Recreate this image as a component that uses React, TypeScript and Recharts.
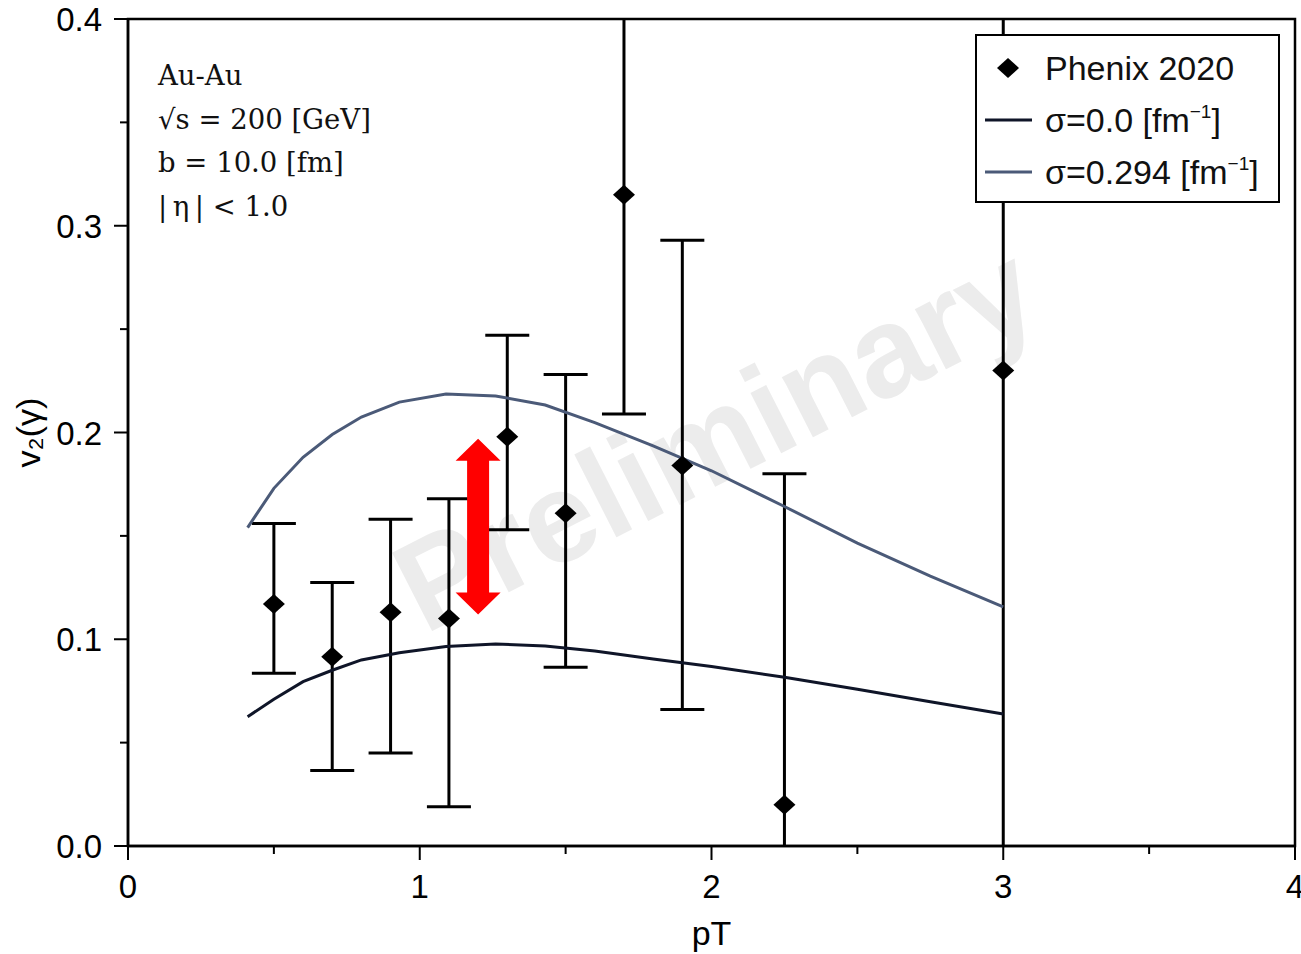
import React from 'react';
import {
  ComposedChart,
  Scatter,
  Line,
  XAxis,
  YAxis,
  ErrorBar,
  Legend,
  ReferenceLine,
  ReferenceArea,
  Customized,
} from 'recharts';

// ---- Data ----
const pTValues = [0.5, 0.7, 0.9, 1.1, 1.3, 1.5, 1.7, 1.9, 2.25, 3.0];
const v2Values = [0.117, 0.0915, 0.113, 0.11, 0.198, 0.161, 0.315, 0.184, 0.02, 0.23];
const errLow = [0.0335, 0.055, 0.068, 0.091, 0.045, 0.0745, 0.106, 0.118, 0.16, 0.25];
const errHigh = [0.039, 0.036, 0.045, 0.058, 0.049, 0.067, 0.106, 0.109, 0.16, 0.25];

const curvePT = [0.41, 0.5, 0.6, 0.7, 0.8, 0.93, 1.09, 1.26, 1.43, 1.6, 1.8, 2.0, 2.25, 2.5, 2.75, 3.0];
const sigma0 = [0.0625, 0.071, 0.0795, 0.085, 0.09, 0.0935, 0.0965, 0.0977, 0.0967, 0.0943, 0.0905, 0.0868, 0.0816, 0.0758, 0.0698, 0.0638];
const sigma294 = [0.154, 0.173, 0.188, 0.199, 0.2075, 0.2147, 0.2186, 0.2177, 0.2133, 0.2048, 0.1935, 0.1815, 0.1642, 0.1465, 0.1305, 0.1157];

const xTicks = [0, 0.5, 1, 1.5, 2, 2.5, 3, 3.5, 4];
const yTicks = [0, 0.05, 0.1, 0.15, 0.2, 0.25, 0.3, 0.35, 0.4];

const arrowX = 1.2;
const arrowLow = 0.112;
const arrowHigh = 0.197;

const infoLines = ['Au-Au', '\u221As = 200 [GeV]', 'b = 10.0 [fm]', '|\u2009\u03B7\u2009| < 1.0'];
const legendLabels = ['Phenix 2020', '\u03C3=0.0 [fm', '\u03C3=0.294 [fm'];

const phenixData = pTValues.map((x, i) => ({ pT: x, v2: v2Values[i], err: [errLow[i], errHigh[i]] }));
const sigma0Data = curvePT.map((x, i) => ({ pT: x, v2: sigma0[i] }));
const sigma294Data = curvePT.map((x, i) => ({ pT: x, v2: sigma294[i] }));

const SANS = '"Liberation Sans", Arial, Helvetica, sans-serif';
const SERIF = '"DejaVu Serif", "Liberation Serif", serif';
const COLOR0 = '#0f1528';
const COLOR294 = '#4b5a78';

const Diamond = (props: any) => {
  const { cx, cy } = props;
  if (cx == null || cy == null) return null;
  return (
    <polygon
      points={`${cx},${cy - 10} ${cx + 11},${cy} ${cx},${cy + 10} ${cx - 11},${cy}`}
      fill="#000"
    />
  );
};

const YTick = (props: any) => {
  const { x, y, payload } = props;
  const v = payload.value;
  const major = Math.abs(v * 10 - Math.round(v * 10)) < 1e-6;
  return (
    <g>
      <line x1={x - (major ? 14 : 8)} x2={x} y1={y} y2={y} stroke="#000" strokeWidth={2} />
      {major && (
        <text x={x - 26} y={y + 12} textAnchor="end" fontSize={33} fontFamily={SANS} fill="#000">
          {v.toFixed(1)}
        </text>
      )}
    </g>
  );
};

const XTick = (props: any) => {
  const { x, y, payload } = props;
  const v = payload.value;
  const major = Math.abs(v - Math.round(v)) < 1e-6;
  return (
    <g>
      <line x1={x} x2={x} y1={y} y2={y + (major ? 14 : 8)} stroke="#000" strokeWidth={2} />
      {major && (
        <text x={x} y={y + 52} textAnchor="middle" fontSize={33} fontFamily={SANS} fill="#000">
          {String(v)}
        </text>
      )}
    </g>
  );
};

const YLabel = (props: any) => {
  const vb = props.viewBox || { x: 0, y: 19, width: 128, height: 827 };
  const cx = vb.x + 28;
  const cy = vb.y + vb.height / 2;
  return (
    <text
      x={cx}
      y={cy}
      transform={`rotate(-90, ${cx}, ${cy})`}
      textAnchor="middle"
      dominantBaseline="central"
      fontSize={34}
      fontFamily={SANS}
      fill="#000"
    >
      v₂(γ)
    </text>
  );
};

const XLabel = (props: any) => {
  const vb = props.viewBox || { x: 128, y: 846, width: 1167, height: 108 };
  return (
    <text
      x={vb.x + vb.width / 2}
      y={vb.y + 99}
      textAnchor="middle"
      fontSize={34}
      fontFamily={SANS}
      fill="#000"
    >
      pT
    </text>
  );
};

const Watermark = () => (
  <g>
    <defs>
      <clipPath id="plotClip">
        <rect x={128} y={19} width={1167} height={827} />
      </clipPath>
    </defs>
    <text
      x={715}
      y={437}
      transform="rotate(-27, 715, 437)"
      textAnchor="middle"
      dominantBaseline="central"
      fontSize={128}
      fontWeight="bold"
      fontFamily={SANS}
      fill="#ececec"
    >
      Preliminary
    </text>
  </g>
);

const InfoText = () => (
  <g>
    {infoLines.map((t, i) => (
      <text key={i} x={158} y={85 + i * 43.7} fontSize={27.5} fontFamily={SERIF} fill="#111">
        {t}
      </text>
    ))}
  </g>
);

const DoubleArrow = (props: any) => {
  const { x1, y1, y2 } = props;
  const cx = x1;
  const top = Math.min(y1, y2);
  const bot = Math.max(y1, y2);
  const hh = 22;
  const hw = 22.5;
  const sw = 11;
  const pts = [
    [cx, top],
    [cx + hw, top + hh],
    [cx + sw, top + hh],
    [cx + sw, bot - hh],
    [cx + hw, bot - hh],
    [cx, bot],
    [cx - hw, bot - hh],
    [cx - sw, bot - hh],
    [cx - sw, top + hh],
    [cx - hw, top + hh],
  ]
    .map((p) => p.join(','))
    .join(' ');
  return <polygon points={pts} fill="#ff0000" />;
};

const LegendContent = () => {
  const rows = [34, 86, 138];
  const sup = (label: string) => (
    <text x={70} fontSize={34} fontFamily={SANS} fill="#111">
      {label}
      <tspan dy={-14} fontSize={19}>
        −1
      </tspan>
      <tspan dy={14}>]</tspan>
    </text>
  );
  return (
    <svg width={305} height={169} style={{ display: 'block', background: '#fff' }}>
      <rect x={1} y={1} width={303} height={167} fill="#fff" stroke="#000" strokeWidth={2} />
      <polygon points={`33,${rows[0] - 10} 44,${rows[0]} 33,${rows[0] + 10} 22,${rows[0]}`} fill="#000" />
      <text x={70} y={rows[0] + 12} fontSize={34} fontFamily={SANS} fill="#111">
        {legendLabels[0]}
      </text>
      <line x1={10} x2={57} y1={rows[1]} y2={rows[1]} stroke={COLOR0} strokeWidth={3} />
      <g transform={`translate(0, ${rows[1] + 12})`}>{sup(legendLabels[1])}</g>
      <line x1={10} x2={57} y1={rows[2]} y2={rows[2]} stroke={COLOR294} strokeWidth={3} />
      <g transform={`translate(0, ${rows[2] + 12})`}>{sup(legendLabels[2])}</g>
    </svg>
  );
};

export default function App() {
  return (
    <div style={{ position: 'absolute', left: 0, top: 0, width: 1301, height: 954, background: '#fff' }}>
      <style>{`.recharts-errorBars, .recharts-errorBar { clip-path: url(#plotClip); }`}</style>
      <ComposedChart width={1301} height={954} margin={{ top: 19, right: 6, bottom: 0, left: 0 }}>
        <Customized component={Watermark} />
        <Customized component={InfoText} />
        <XAxis
          dataKey="pT"
          type="number"
          domain={[0, 4]}
          ticks={xTicks}
          interval={0}
          height={108}
          tickSize={0}
          tickMargin={0}
          tickLine={false}
          tick={<XTick />}
          axisLine={{ stroke: '#000', strokeWidth: 2.5 }}
          allowDataOverflow
          label={<XLabel />}
        />
        <YAxis
          type="number"
          domain={[0, 0.4]}
          ticks={yTicks}
          interval={0}
          width={128}
          tickSize={0}
          tickMargin={0}
          tickLine={false}
          tick={<YTick />}
          axisLine={{ stroke: '#000', strokeWidth: 2.5 }}
          allowDataOverflow
          label={<YLabel />}
        />
        <ReferenceArea x1={0} x2={4} y1={0} y2={0.4} fill="none" stroke="#000" strokeWidth={2.5} />
        <Scatter
          name="Phenix 2020"
          data={phenixData}
          dataKey="v2"
          fill="#000"
          shape={<Diamond />}
          isAnimationActive={false}
        >
          <ErrorBar
            dataKey="err"
            direction="y"
            width={22}
            strokeWidth={3}
            stroke="#000"
            clipPath="url(#plotClip)"
          />
        </Scatter>
        <Line
          data={sigma0Data}
          dataKey="v2"
          type="linear"
          stroke={COLOR0}
          strokeWidth={3}
          dot={false}
          activeDot={false}
          isAnimationActive={false}
        />
        <Line
          data={sigma294Data}
          dataKey="v2"
          type="linear"
          stroke={COLOR294}
          strokeWidth={3}
          dot={false}
          activeDot={false}
          isAnimationActive={false}
        />
        <ReferenceLine
          segment={[
            { x: arrowX, y: arrowLow },
            { x: arrowX, y: arrowHigh },
          ]}
          shape={DoubleArrow}
        />
        <Legend
          content={<LegendContent />}
          layout="vertical"
          align="center"
          verticalAlign="middle"
          wrapperStyle={{ position: 'absolute', left: 975, top: 34, width: 305, height: 169 }}
        />
      </ComposedChart>
    </div>
  );
}
